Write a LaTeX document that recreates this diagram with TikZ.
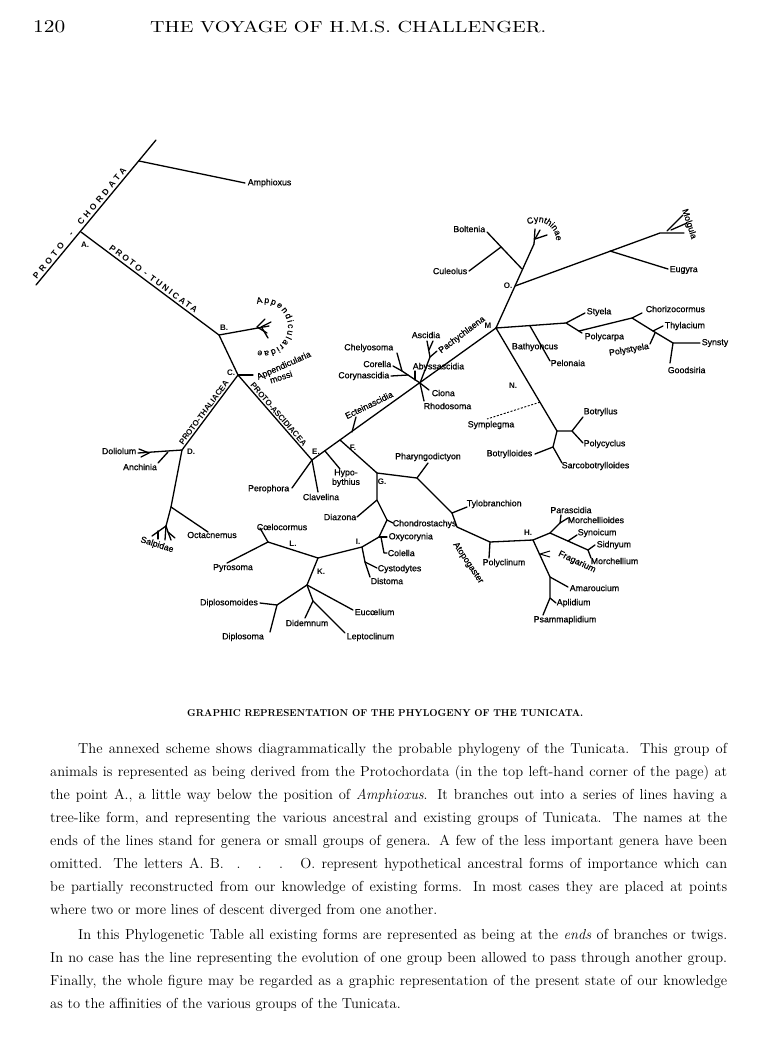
\documentclass[tikz,border=0pt]{standalone}
\usepackage{fontspec}
\usetikzlibrary{decorations.text,calc}
\newfontfamily\labfont[FakeBold=0.6]{Liberation Sans}
\newfontfamily\grpfont{Liberation Sans}
\newcommand\decofont{\labfont\fontsize{8.7}{10}\selectfont}
\begin{document}
\begin{tikzpicture}[x=1pt,y=-1pt,
  br/.style={line width=1.3pt, line cap=round, line join=round},
  lab/.style={font=\labfont\fontsize{8.8}{10}\selectfont, inner sep=0.6pt},
  jl/.style={font=\grpfont\bfseries\fontsize{8}{9}\selectfont, inner sep=0.5pt},
  grp/.style={font=\grpfont\bfseries\fontsize{8}{9}\selectfont, inner sep=1pt},
  body/.style={font=\fontsize{14.5}{16}\selectfont, anchor=base west, inner sep=0pt}]
\useasboundingbox[fill=white] (0,0) rectangle (776,1050);

% ---------- heading ----------
\node[anchor=base west, inner sep=0] (pgno) at (33,32) {\resizebox{32pt}{12pt}{120}};
\node[anchor=base west, inner sep=0] (rhead) at (150,32) {\resizebox{396pt}{11.5pt}{THE VOYAGE OF H.M.S. CHALLENGER.}};

% ---------- coordinates ----------
\coordinate (pcL) at (36,285); \coordinate (pcT) at (156,140);
\coordinate (amJ) at (139,161); \coordinate (amT) at (245,183);
\coordinate (A) at (81,232); \coordinate (B) at (219,335);
\coordinate (apT) at (269,326); \coordinate (apJ) at (257,327);
\coordinate (ap1) at (265,319); \coordinate (ap2a) at (261,327); \coordinate (ap2) at (271,322);
\coordinate (ap3) at (267,333); \coordinate (ap4a) at (262,328); \coordinate (ap4) at (268,338);
\coordinate (C) at (238,375); \coordinate (amsT) at (253,375);
\coordinate (D) at (182,450); \coordinate (E) at (312,460);
\coordinate (doT) at (138,453); \coordinate (doF) at (149,453);
\coordinate (doT1) at (139,449); \coordinate (doT2) at (141,457);
\coordinate (anJ) at (168,452); \coordinate (anT) at (158,463);
\coordinate (sa0) at (171,507); \coordinate (ocT) at (208,532);
\coordinate (sfJ) at (166,526);
\coordinate (sf1) at (152,536); \coordinate (sf2a) at (158,531); \coordinate (sf2) at (158,539);
\coordinate (sf3) at (165,540); \coordinate (sf4a) at (168,532); \coordinate (sf4) at (171,540); \coordinate (sf5) at (175,538);
\coordinate (peT) at (292,488); \coordinate (clT) at (318,492);
\coordinate (F) at (340,440); \coordinate (hyJ) at (325,451); \coordinate (hyT) at (340,469);
\coordinate (ecJ) at (352,432); \coordinate (ecT) at (356,417);
\coordinate (P1) at (420,383); \coordinate (ciT) at (429,390); \coordinate (rhT) at (424,401);
\coordinate (q1) at (408,375); \coordinate (cyT) at (391,376);
\coordinate (q2) at (402,371); \coordinate (chT) at (397,353); \coordinate (coT) at (393,366);
\coordinate (abyB) at (415,380); \coordinate (abyT) at (415,371);
\coordinate (asJ) at (430,357); \coordinate (asT1) at (427,341); \coordinate (asA) at (429,350); \coordinate (asT2) at (433,341);
\coordinate (pacT) at (437,351);
\coordinate (M) at (496,328);
\coordinate (O) at (515,286); \coordinate (obJ) at (522,269); \coordinate (bcJ) at (501,247);
\coordinate (boT) at (487,232); \coordinate (cuT) at (469,271);
\coordinate (cyJ) at (534,244); \coordinate (cy1) at (535,229); \coordinate (cy2a) at (535,239); \coordinate (cy2) at (540,230); \coordinate (cy3) at (547,235);
\coordinate (molJ) at (660,233); \coordinate (eugJ) at (610,251); \coordinate (euT) at (668,269);
\coordinate (mo1) at (684,233); \coordinate (mo2a) at (667,231); \coordinate (mo2) at (683,215); \coordinate (mo3a) at (671,230); \coordinate (mo3) at (687,223);
\coordinate (stJ) at (566,323); \coordinate (styT) at (585,313); \coordinate (polT) at (582,333);
\coordinate (pcJ2) at (579,331); \coordinate (chJ) at (632,318); \coordinate (chzT) at (642,313);
\coordinate (thJ) at (653,331); \coordinate (thT) at (663,326);
\coordinate (psB) at (655,333); \coordinate (psT) at (650,344);
\coordinate (synJ) at (673,343); \coordinate (synT) at (700,343); \coordinate (goT) at (670,363);
\coordinate (bpJ) at (530,326); \coordinate (peloT) at (550,361);
\coordinate (nJ) at (557,431); \coordinate (boJ) at (572,431);
\coordinate (botT) at (583,417); \coordinate (poT) at (583,443);
\coordinate (btJ) at (553,447); \coordinate (btlT) at (535,454); \coordinate (sarT) at (562,463);
\coordinate (symS) at ($(M)!0.72!(nJ)$); \coordinate (symT) at (487,419);
\coordinate (G) at (377,473); \coordinate (phJ) at (417,478); \coordinate (phT) at (428,463);
\coordinate (tyJ) at (452,513); \coordinate (tyT) at (467,507);
\coordinate (J) at (457,527); \coordinate (plJ) at (490,542); \coordinate (plT) at (489,558);
\coordinate (H) at (533,540);
\coordinate (hJ1) at (550,533); \coordinate (hJ2) at (560,523);
\coordinate (paT) at (561,515); \coordinate (moiT) at (568,518);
\coordinate (moJ) at (588,550); \coordinate (synoJ) at (568,541); \coordinate (synoT) at (577,535);
\coordinate (siT) at (595,545); \coordinate (mchT) at (591,558);
\coordinate (amJ2) at (550,577); \coordinate (frA) at (540,554); \coordinate (frT1) at (550,551); \coordinate (frT2) at (550,557);
\coordinate (amaT) at (568,587); \coordinate (apJ2) at (550,598); \coordinate (aplT) at (556,603); \coordinate (psaT) at (543,615);
\coordinate (dzJ) at (377,500); \coordinate (dzT) at (357,517);
\coordinate (chJ2) at (387,520); \coordinate (chsT) at (393,523);
\coordinate (oxJ) at (379,537); \coordinate (oxT) at (387,537);
\coordinate (colB) at (381,537); \coordinate (colM) at (384,553); \coordinate (colT) at (387,553);
\coordinate (I) at (362,547); \coordinate (cyJ2) at (365,562); \coordinate (cysT) at (377,568); \coordinate (disT) at (370,577);
\coordinate (K) at (318,558); \coordinate (L) at (268,542); \coordinate (coeT) at (260,528); \coordinate (pyT) at (227,563);
\coordinate (kJ) at (307,585); \coordinate (dJ) at (277,605); \coordinate (dpmT) at (260,603); \coordinate (dipT) at (270,632);
\coordinate (eucT) at (353,610); \coordinate (ddJ) at (313,601); \coordinate (ddT) at (305,618); \coordinate (lepT) at (345,633);

% ---------- branches ----------
\draw[br] (pcL) -- (pcT);
\draw[br] (amJ) -- (amT);
\draw[br] (A) -- (B) -- (C);
\draw[br] (B) -- (apT);
\draw[br] (apJ) -- (ap1); \draw[br] (ap2a) -- (ap2); \draw[br] (apJ) -- (ap3); \draw[br] (ap4a) -- (ap4);
\draw[br] (C) -- (amsT);
\draw[br] (C) -- (D) -- (sa0) -- (sfJ);
\draw[br] (C) -- (E);
\draw[br] (D) -- (doT); \draw[br] (doF) -- (doT1); \draw[br] (doF) -- (doT2);
\draw[br] (anJ) -- (anT);
\draw[br] (sa0) -- (ocT);
\draw[br] (sfJ) -- (sf1); \draw[br] (sf2a) -- (sf2); \draw[br] (sfJ) -- (sf3); \draw[br] (sfJ) -- (sf4a) -- (sf4); \draw[br] (sf4a) -- (sf5);
\draw[br] (E) -- (peT); \draw[br] (E) -- (clT);
\draw[br] (E) -- (M);
\draw[br] (hyJ) -- (hyT);
\draw[br] (ecJ) -- (ecT);
\draw[br] (P1) -- (ciT); \draw[br] (P1) -- (rhT);
\draw[br] (P1) -- (q2) -- (chT); \draw[br] (q2) -- (coT); \draw[br] (q1) -- (cyT);
\draw[br] (abyB) -- (abyT);
\draw[br] (P1) -- (asJ) -- (asT1); \draw[br] (asA) -- (asT2); \draw[br] (asJ) -- (pacT);
\draw[br] (M) -- (O) -- (cyJ);
\draw[br] (obJ) -- (boT); \draw[br] (bcJ) -- (cuT);
\draw[br] (cyJ) -- (cy1); \draw[br] (cy2a) -- (cy2); \draw[br] (cy2a) -- (cy3);
\draw[br] (O) -- (molJ) -- (mo1); \draw[br] (mo2a) -- (mo2); \draw[br] (mo3a) -- (mo3);
\draw[br] (eugJ) -- (euT);
\draw[br] (M) -- (stJ) -- (styT); \draw[br] (stJ) -- (polT);
\draw[br] (pcJ2) -- (chJ) -- (chzT); \draw[br] (chJ) -- (thJ) -- (synJ) -- (synT);
\draw[br] (thJ) -- (thT); \draw[br] (psB) -- (psT); \draw[br] (synJ) -- (goT);
\draw[br] (bpJ) -- (peloT);
\draw[br] (M) -- (nJ) -- (boJ) -- (botT); \draw[br] (boJ) -- (poT);
\draw[br] (nJ) -- (btJ) -- (btlT); \draw[br] (btJ) -- (sarT);
\draw[line width=0.9pt, dash pattern=on 2pt off 1.6pt] (symS) -- (symT);
\draw[br] (F) -- (G) -- (phJ) -- (tyJ) -- (J) -- (plJ) -- (H);
\draw[br] (phJ) -- (phT); \draw[br] (tyJ) -- (tyT); \draw[br] (plJ) -- (plT);
\draw[br] (H) -- (hJ1) -- (hJ2) -- (paT); \draw[br] (hJ2) -- (moiT);
\draw[br] (hJ1) -- (moJ) -- (siT); \draw[br] (moJ) -- (mchT); \draw[br] (synoJ) -- (synoT);
\draw[br] (H) -- (amJ2) -- (apJ2) -- (psaT); \draw[br] (amJ2) -- (amaT); \draw[br] (apJ2) -- (aplT);
\draw[line width=1pt] (frT1) -- (frA) -- (frT2);
\draw[br] (G) -- (dzJ) -- (chJ2) -- (oxJ) -- (I) -- (K) -- (kJ) -- (dJ) -- (dpmT);
\draw[br] (dzJ) -- (dzT); \draw[br] (chJ2) -- (chsT); \draw[br] (oxJ) -- (oxT);
\draw[br] (colB) -- (colM) -- (colT);
\draw[br] (I) -- (cyJ2) -- (cysT); \draw[br] (cyJ2) -- (disT);
\draw[br] (K) -- (L) -- (coeT); \draw[br] (L) -- (pyT);
\draw[br] (dJ) -- (dipT); \draw[br] (kJ) -- (eucT); \draw[br] (kJ) -- (ddJ) -- (ddT); \draw[br] (ddJ) -- (lepT);

% ---------- group labels along branches ----------
\path (pcL) -- (pcT) node[grp, sloped, above=1.5pt, pos=0.40, font=\grpfont\bfseries\fontsize{8.5}{9}\selectfont\addfontfeatures{LetterSpace=40}] (gChord) {PROTO\ \ -\ \ CHORDATA};
\path (A) -- (B) node[grp, sloped, above=1.5pt, pos=0.5, font=\grpfont\bfseries\fontsize{8.5}{9}\selectfont\addfontfeatures{LetterSpace=25}] (gTun) {PROTO - TUNICATA};
\path (D) -- (C) node[grp, sloped, above=0.8pt, pos=0.46] (gThal) {PROTO-THALIACEA};
\path (C) -- (E) node[grp, sloped, above=0.8pt, pos=0.5] (gAsc) {PROTO-ASCIDIACEA};

% ---------- junction letters ----------
\node[jl] (lA) at (85,245) {A.};
\node[jl] (lB) at (224,328) {B.};
\node[jl] (lC) at (231,373) {C.};
\node[jl] (lD) at (191,452) {D.};
\node[jl] (lE) at (316,452) {E.};
\node[jl] (lF) at (353,448) {F.};
\node[jl] (lG) at (382,482) {G.};
\node[jl] (lH) at (528,533) {H.};
\node[jl] (lI) at (358,542) {I.};
\node[jl] (lK) at (321,572) {K.};
\node[jl] (lL) at (293,544) {L.};
\node[jl] (lM) at (488,326) {M};
\node[jl] (lN) at (513,386) {N.};
\node[jl] (lO) at (508,286) {O.};

% ---------- curved labels ----------
\path[decorate, decoration={text along path, text={|\decofont|Appendicularidae}, text align={fit to path}}]
  (257,304) arc[start angle=-107, end angle=105, radius=24];
\path[decorate, decoration={text along path, text={|\decofont|Cynthinae}, text align=center}]
  (525.3,227.3) arc[start angle=-135, end angle=15, radius=18];

% ---------- leaf labels ----------
\node[lab, anchor=west] (lAmph) at (247,183) {Amphioxus};
\node[lab, rotate=24] (lAppM) at (284,366) {Appendicularia};
\node[lab, rotate=18] (lMossi) at (281,377) {mossi};
\node[lab, anchor=east] (lDol) at (137,451) {Doliolum};
\node[lab] (lAnch) at (140,467) {Anchinia};
\node[lab] (lOct) at (212,535) {Octacnemus};
\node[lab, rotate=-18] (lSalp) at (157,545) {Salpidae};
\node[lab, anchor=east] (lPer) at (290,489) {Perophora};
\node[lab] (lClav) at (321,497) {Clavelina};
\node[lab, align=center, font=\labfont\fontsize{8.8}{9.5}\selectfont] (lHyp) at (346,478) {Hypo-\\bythius};
\node[lab, rotate=26] (lEct) at (369,405) {Ecteinascidia};
\node[lab, anchor=west] (lCio) at (431,393) {Ciona};
\node[lab, anchor=west] (lRho) at (423,406) {Rhodosoma};
\node[lab, anchor=east] (lCory) at (390,376) {Corynascidia};
\node[lab, anchor=east] (lCor) at (392,364) {Corella};
\node[lab, anchor=east] (lChel) at (394,348) {Chelyosoma};
\node[lab, anchor=west] (lAby) at (412,367) {Abyssascidia};
\node[lab] (lAsc) at (426,335) {Ascidia};
\node[lab, rotate=37] (lPach) at (462,335) {Pachychlaena};
\node[lab, anchor=east] (lBolt) at (486,229) {Boltenia};
\node[lab, anchor=east] (lCul) at (468,271) {Culeolus};
\node[lab, rotate=-72] (lMolg) at (689,224) {Molgula};
\node[lab, anchor=west] (lEug) at (669,270) {Eugyra};
\node[lab, anchor=west] (lSty) at (586,312) {Styela};
\node[lab, anchor=west] (lPolc) at (584,337) {Polycarpa};
\node[lab, anchor=west] (lChor) at (645,309) {Chorizocormus};
\node[lab, anchor=west] (lThy) at (664,326) {Thylacium};
\node[lab, rotate=10] (lPst) at (629,350) {Polystyela};
\node[lab, anchor=west] (lSyn) at (701,343) {Synsty};
\node[lab, anchor=west] (lGood) at (667,370) {Goodsiria};
\node[lab] (lBath) at (535,347) {Bathyoncus};
\node[lab, anchor=west] (lPel) at (550,363) {Pelonaia};
\node[lab] (lSym) at (491,425) {Symplegma};
\node[lab, anchor=west] (lBot) at (583,412) {Botryllus};
\node[lab, anchor=west] (lPcy) at (583,444) {Polycyclus};
\node[lab, anchor=east] (lBtl) at (533,454) {Botrylloides};
\node[lab, anchor=west] (lSarc) at (561,466) {Sarcobotrylloides};
\node[lab] (lPhar) at (428,457) {Pharyngodictyon};
\node[lab, anchor=west] (lTyl) at (466,504) {Tylobranchion};
\node[lab, anchor=west] (lChon) at (392,524) {Chondrostachys};
\node[lab, rotate=-56] (lAtop) at (468,563) {Atopogaster};
\node[lab] (lPolyc) at (504,563) {Polyclinum};
\node[lab] (lPara) at (571,510) {Parascidia};
\node[lab, anchor=west] (lMoi) at (567,520) {Morchellioides};
\node[lab, anchor=west] (lSyno) at (577,533) {Synoicum};
\node[lab, anchor=west] (lSid) at (596,545) {Sidnyum};
\node[lab, anchor=west] (lMch) at (590,561) {Morchellium};
\node[lab, rotate=-25] (lFrag) at (577,562) {Fragarium};
\node[lab, anchor=west] (lAma) at (569,588) {Amaroucium};
\node[lab, anchor=west] (lApl) at (556,603) {Aplidium};
\node[lab] (lPsa) at (565,620) {Psammaplidium};
\node[lab, anchor=east] (lDiaz) at (357,517) {Diazona};
\node[lab, anchor=west] (lOxy) at (388,537) {Oxycorynia};
\node[lab, anchor=west] (lCol) at (387,553) {Colella};
\node[lab, anchor=west] (lCys) at (377,569) {Cystodytes};
\node[lab, anchor=west] (lDis) at (370,581) {Distoma};
\node[lab] (lCoe) at (282,527) {Cœlocormus};
\node[lab] (lPyr) at (233,568) {Pyrosoma};
\node[lab] (lDpm) at (229,603) {Diplosomoides};
\node[lab] (lDip) at (243,637) {Diplosoma};
\node[lab, anchor=west] (lEuc) at (354,612) {Eucœlium};
\node[lab] (lDid) at (307,623) {Didemnum};
\node[lab, anchor=west] (lLep) at (346,637) {Leptoclinum};

% ---------- caption ----------
\node[anchor=base west, inner sep=0] (cap) at (187,716) {\resizebox{396pt}{7pt}{\bfseries GRAPHIC REPRESENTATION OF THE PHYLOGENY OF THE TUNICATA.}};

% ---------- body text ----------
\node[body] (t1) at (78,753) {\makebox[649pt][s]{The annexed scheme shows diagrammatically the probable phylogeny of the Tunicata. This group of}};
\node[body] (t2) at (50,776) {\makebox[677pt][s]{animals is represented as being derived from the Protochordata (in the top left-hand corner of the page) at}};
\node[body] (t3) at (50,799) {\makebox[677pt][s]{the point A., a little way below the position of \textit{Amphioxus}. It branches out into a series of lines having a}};
\node[body] (t4) at (50,822) {\makebox[677pt][s]{tree-like form, and representing the various ancestral and existing groups of Tunicata. The names at the}};
\node[body] (t5) at (50,845) {\makebox[677pt][s]{ends of the lines stand for genera or small groups of genera. A few of the less important genera have been}};
\node[body] (t6) at (50,868) {\makebox[677pt][s]{omitted. The letters A. B. \ . \ . \ . \ O. represent hypothetical ancestral forms of importance which can}};
\node[body] (t7) at (50,891) {\makebox[677pt][s]{be partially reconstructed from our knowledge of existing forms. In most cases they are placed at points}};
\node[body] (t8) at (50,914) {where two or more lines of descent diverged from one another.};
\node[body] (t9) at (78,939) {\makebox[649pt][s]{In this Phylogenetic Table all existing forms are represented as being at the \textit{ends} of branches or twigs.}};
\node[body] (t10) at (50,962) {\makebox[677pt][s]{In no case has the line representing the evolution of one group been allowed to pass through another group.}};
\node[body] (t11) at (50,985) {\makebox[677pt][s]{Finally, the whole figure may be regarded as a graphic representation of the present state of our knowledge}};
\node[body] (t12) at (50,1008) {as to the affinities of the various groups of the Tunicata.};
\end{tikzpicture}
\end{document}
